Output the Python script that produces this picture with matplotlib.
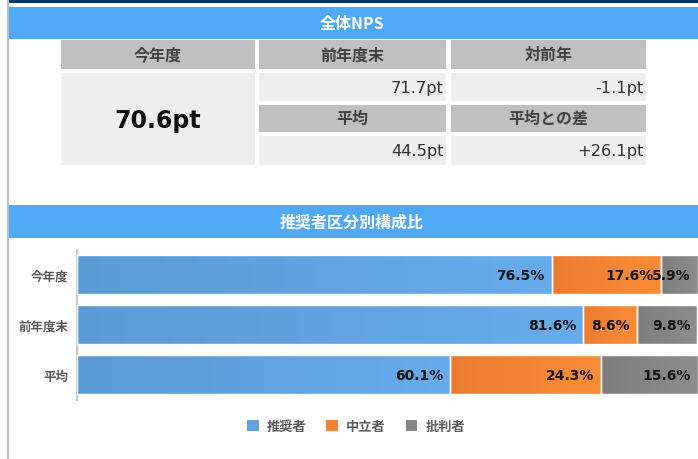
import matplotlib
matplotlib.use("Agg")
import matplotlib.pyplot as plt
import numpy as np
from matplotlib.patches import Rectangle, Patch
from matplotlib.colors import LinearSegmentedColormap

# ---------------- data ----------------
title_top = "全体NPS"
title_chart = "推奨者区分別構成比"
current_label = "今年度"
current_value = "70.6pt"
table_headers_row1 = ["前年度末", "対前年"]
table_values_row1 = ["71.7pt", "-1.1pt"]
table_headers_row2 = ["平均", "平均との差"]
table_values_row2 = ["44.5pt", "+26.1pt"]

categories = ["今年度", "前年度末", "平均"]
series_names = ["推奨者", "中立者", "批判者"]
promoters = [76.5, 81.6, 60.1]
passives = [17.6, 8.6, 24.3]
detractors = [5.9, 9.8, 15.6]

# ---------------- style ----------------
JP = ["Noto Sans CJK JP", "DejaVu Sans"]
NUM = ["DejaVu Sans", "Noto Sans CJK JP"]
W, H = 698, 460
BAND = "#4fa9f7"
NAVY = "#00346b"
HDR = "#c0c0c0"
CELL = "#eeeeee"
grad = {
    "推奨者": ("#5b9bd5", "#66abeb"),
    "中立者": ("#ec7b30", "#fa8c36"),
    "批判者": ("#7e7e7e", "#8d8d8d"),
}
legend_col = {"推奨者": "#5fa2df", "中立者": "#f38433", "批判者": "#858585"}

fig = plt.figure(figsize=(W / 100, H / 100), dpi=100)
fig.patch.set_facecolor("white")

lay = fig.add_axes([0, 0, 1, 1])
lay.set_xlim(0, W)
lay.set_ylim(H, 0)
lay.axis("off")

def rect(x0, y0, x1, y1, color, z=1):
    lay.add_patch(Rectangle((x0, y0), x1 - x0, y1 - y0, facecolor=color,
                            edgecolor="none", zorder=z))

# frame pieces
rect(7, 0, 9, H, "#c0c0c0")
rect(9, 0, W, 4, NAVY)
rect(9, 7.5, W, 39.5, BAND)
lay.text(352, 23.5, title_top, ha="center", va="center", color="white",
         fontsize=11.5, fontweight="bold", family=JP)

# table
c1 = (61, 254.5)
c2 = (259, 446)
c3 = (450.5, 646)
r1 = (41, 69.5)
r2 = (74, 101.5)
r3 = (105.5, 132.5)
r4 = (137, 165.5)

rect(c1[0], r1[0], c1[1], r1[1], HDR)
rect(c1[0], r2[0], c1[1], r4[1], CELL)
lay.text((c1[0] + c1[1]) / 2, (r1[0] + r1[1]) / 2, current_label, ha="center",
         va="center", fontsize=11.5, fontweight="bold", color="#404040", family=JP)
lay.text((c1[0] + c1[1]) / 2, (r2[0] + r4[1]) / 2 + 1, current_value, ha="center",
         va="center", fontsize=17, fontweight="bold", color="#111111", family=NUM)

for (cx, hrow, vrow, hdr_text, val_text) in [
    (c2, r1, r2, table_headers_row1[0], table_values_row1[0]),
    (c3, r1, r2, table_headers_row1[1], table_values_row1[1]),
    (c2, r3, r4, table_headers_row2[0], table_values_row2[0]),
    (c3, r3, r4, table_headers_row2[1], table_values_row2[1]),
]:
    rect(cx[0], hrow[0], cx[1], hrow[1], HDR)
    rect(cx[0], vrow[0], cx[1], vrow[1], CELL)
    lay.text((cx[0] + cx[1]) / 2, (hrow[0] + hrow[1]) / 2, hdr_text,
             ha="center", va="center", fontsize=11.5, fontweight="bold",
             color="#404040", family=JP)
    lay.text(cx[1] - 2.5, (vrow[0] + vrow[1]) / 2 + 0.5, val_text,
             ha="right", va="center", fontsize=11.7, color="#333333", family=NUM)

# chart band
rect(9, 206, W, 239, BAND)
lay.text(352, 222.5, title_chart, ha="center", va="center", color="white",
         fontsize=11.5, fontweight="bold", family=JP)

# ---------------- bar chart ----------------
ax_left, ax_right = 77, 697.5
ax_top, ax_bot = 250.7, 400.7
ax = fig.add_axes([ax_left / W, 1 - ax_bot / H, (ax_right - ax_left) / W,
                   (ax_bot - ax_top) / H])
ax.patch.set_alpha(0)
for s in ["top", "right", "bottom"]:
    ax.spines[s].set_visible(False)
ax.spines["left"].set_color("#c8c8c8")
ax.spines["left"].set_linewidth(1.5)
ax.set_xticks([])
y = np.arange(len(categories))
ax.set_yticks(y)
ax.set_yticklabels(categories, family=JP, fontsize=9, fontweight="bold",
                   color="#595959")
ax.tick_params(axis="y", length=0, pad=6)

gradimg = np.linspace(0, 1, 256).reshape(1, -1)
left = np.zeros(len(categories))
for name, vals in zip(series_names, [promoters, passives, detractors]):
    vals = np.array(vals)
    bars = ax.barh(y, vals, left=left, height=0.77, color=grad[name][1],
                   edgecolor="white", linewidth=1.0, zorder=2)
    cmap = LinearSegmentedColormap.from_list(name, grad[name])
    for b in bars:
        x0, y0 = b.get_x(), b.get_y()
        im = ax.imshow(gradimg, cmap=cmap, aspect="auto", zorder=2.5,
                       extent=(x0, x0 + b.get_width(), y0 + b.get_height(), y0),
                       interpolation="bilinear")
        im.set_clip_path(b)
        edge = Rectangle((x0, y0), b.get_width(), b.get_height(), facecolor="none",
                         edgecolor="white", linewidth=1.0, zorder=2.6)
        ax.add_patch(edge)
    for yi, (l, v) in enumerate(zip(left, vals)):
        ax.annotate(f"{v:.1f}%", xy=(l + v, yi), xytext=(-5, 0),
                    textcoords="offset points", ha="right", va="center",
                    fontsize=10, fontweight="bold", color="#111111",
                    family=NUM, zorder=5)
    left = left + vals
ax.set_xlim(0, 100)
ax.set_ylim(len(categories) - 0.5, -0.5)

handles = [Patch(facecolor=legend_col[n], edgecolor="none", label=n) for n in series_names]
leg = fig.legend(handles=handles, loc="center", bbox_to_anchor=(356 / W, 1 - 427 / H),
                 ncol=3, frameon=False, handlelength=0.9, handleheight=0.9,
                 handletextpad=0.6, columnspacing=1.5,
                 prop={"family": JP, "size": 9.5, "weight": "bold"})
for t in leg.get_texts():
    t.set_color("#595959")

fig.savefig("out.png", dpi=100, facecolor="white")
